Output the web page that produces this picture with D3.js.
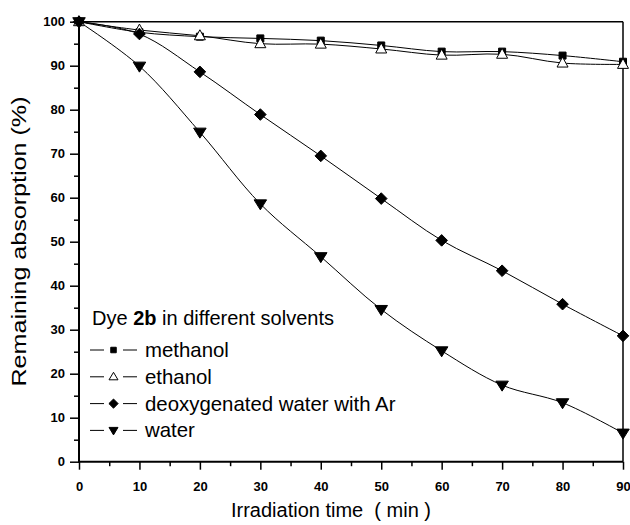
<!DOCTYPE html>
<html><head><meta charset="utf-8">
<script src="https://cdn.jsdelivr.net/npm/d3@7"></script>
<style>body{margin:0;background:#fff}svg{display:block}</style>
</head><body>
<svg id="c" width="630" height="525"></svg>
<script>
const times = [0,10,20,30,40,50,60,70,80,90];
const methanol = [100,97.6,96.6,96.2,95.7,94.6,93.2,93.2,92.3,90.9];
const ethanol = [100,98.1,96.8,95.0,94.9,93.8,92.4,92.6,90.6,90.3];
const deoxWater = [100,97.2,88.6,78.9,69.5,59.8,50.3,43.4,35.8,28.6];
const water = [100,89.9,74.9,58.6,46.6,34.6,25.2,17.4,13.4,6.5];
const xTicks = [0,10,20,30,40,50,60,70,80,90];
const yTicks = [0,10,20,30,40,50,60,70,80,90,100];
const seriesNames = ["methanol","ethanol","deoxygenated water with Ar","water"];

const svg = d3.select("#c");
const L=79, R=623, T=21.7, B=461.7;
const x = d3.scaleLinear().domain([0,90]).range([L,R]);
const y = d3.scaleLinear().domain([0,100]).range([B,T]);
const font = "Arial, 'Liberation Sans', Helvetica, sans-serif";

// frame top/right
svg.append("line").attr("x1",L).attr("x2",R).attr("y1",T).attr("y2",T).attr("stroke","#000").attr("stroke-width",1.5);
svg.append("line").attr("x1",R).attr("x2",R).attr("y1",T).attr("y2",B).attr("stroke","#000").attr("stroke-width",1.5);

// axes
const xMinor = d3.range(5,90,10);
const yMinor = d3.range(5,100,10);
const gx = svg.append("g").attr("transform",`translate(0,${B})`)
  .call(d3.axisBottom(x).tickValues(xMinor).tickSize(4.5).tickFormat(""));
gx.select(".domain").remove();
const gx2 = svg.append("g").attr("transform",`translate(0,${B})`)
  .call(d3.axisBottom(x).tickValues(xTicks).tickSize(8).tickPadding(12).tickFormat(d3.format("d")));
const gy = svg.append("g").attr("transform",`translate(${L},0)`)
  .call(d3.axisLeft(y).tickValues(yMinor).tickSize(5).tickFormat(""));
gy.select(".domain").remove();
const gy2 = svg.append("g").attr("transform",`translate(${L},0)`)
  .call(d3.axisLeft(y).tickValues(yTicks).tickSize(9).tickPadding(5).tickFormat(d3.format("d")));
gx2.select(".domain").attr("d",`M${L-1},0H${R}`).attr("stroke-width",2);
gy2.select(".domain").attr("d",`M0,${B+1}V${T}`).attr("stroke-width",2);
svg.selectAll(".tick line").attr("stroke-width",1.5);
svg.selectAll(".tick text").attr("font-family",font).attr("font-size",13).attr("font-weight","bold").attr("fill","#000");

// custom marker paths (centred on 0,0)
const sqP = s => `M${-s/2},${-s/2}h${s}v${s}h${-s}Z`;
const triUp = (w,h) => `M0,${-h*0.6}L${w/2},${h*0.4}L${-w/2},${h*0.4}Z`;
const triDn = (w,h) => `M0,${h*0.6}L${w/2},${-h*0.4}L${-w/2},${-h*0.4}Z`;
const diaP = r => `M0,${-r}L${r},0L0,${r}L${-r},0Z`;

const series = [
  {name:seriesNames[0], vals:methanol, p:sqP(7), lp:sqP(5.5), fill:"#000"},
  {name:seriesNames[1], vals:ethanol, p:triUp(11,10), lp:triUp(9,7.5), fill:"#fff"},
  {name:seriesNames[2], vals:deoxWater, p:diaP(5.8), lp:diaP(4.6), fill:"#000"},
  {name:seriesNames[3], vals:water, p:triDn(12.5,10), lp:triDn(9,7.5), fill:"#000"}
];
const line = d3.line().x((d,i)=>x(times[i])).y(d=>y(d)).curve(d3.curveCatmullRom.alpha(0.5));
series.forEach(s=>{
  svg.append("path").attr("d",line(s.vals)).attr("fill","none").attr("stroke","#000").attr("stroke-width",1);
});
series.forEach(s=>{
  svg.append("g").selectAll("path").data(s.vals).join("path")
    .attr("d",s.p)
    .attr("transform",(d,i)=>`translate(${x(times[i])},${y(d)})`)
    .attr("fill",s.fill).attr("stroke","#000").attr("stroke-width",1);
});

// legend
const lg = svg.append("g");
const t0 = lg.append("text").attr("x",92).attr("y",325).attr("font-family",font).attr("font-size",20).attr("fill","#000");
t0.append("tspan").text("Dye ");
t0.append("tspan").attr("font-weight","bold").text("2b");
t0.append("tspan").text(" in different solvents");
series.forEach((s,i)=>{
  const cy = 350 + i*26.8;
  lg.append("line").attr("x1",90).attr("x2",104).attr("y1",cy).attr("y2",cy).attr("stroke","#000").attr("stroke-width",1);
  lg.append("line").attr("x1",123).attr("x2",137).attr("y1",cy).attr("y2",cy).attr("stroke","#000").attr("stroke-width",1);
  lg.append("path").attr("d",s.lp).attr("transform",`translate(113.5,${cy})`)
    .attr("fill",s.fill).attr("stroke","#000").attr("stroke-width",1);
  lg.append("text").attr("x",145).attr("y",cy+7).attr("font-family",font).attr("font-size",20.4).attr("fill","#000").text(s.name);
});

// titles
svg.append("text").attr("x",331).attr("y",517).attr("text-anchor","middle").attr("font-family",font).attr("font-size",20).attr("fill","#000").style("white-space","pre").text("Irradiation time  ( min )");
svg.append("text").attr("transform",`translate(26,241.5) rotate(-90)`).attr("text-anchor","middle").attr("font-family",font).attr("font-size",20).attr("fill","#000")
  .attr("textLength",290).attr("lengthAdjust","spacingAndGlyphs").text("Remaining absorption (%)");
</script>
</body></html>
